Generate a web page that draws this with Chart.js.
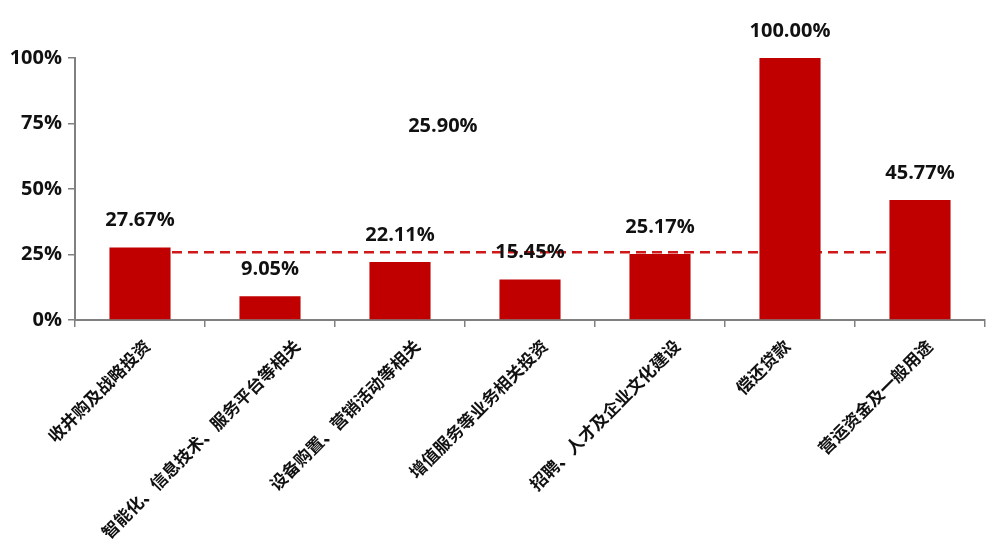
<!DOCTYPE html>
<html>
<head>
<meta charset="utf-8">
<script src="https://cdn.jsdelivr.net/npm/chart.js@4/dist/chart.umd.min.js"></script>
<style>
  html, body { margin: 0; padding: 0; background: #fff; }
  #wrap { width: 992px; height: 545px; }
</style>
</head>
<body>
<div id="wrap"><canvas id="myChart" width="992" height="545"></canvas></div>
<script>
// data
const categories = [
  '收井购及战略投资',
  '智能化、信息技术、服务平台等相关',
  '设备购置、营销活动等相关',
  '增值服务等业务相关投资',
  '招聘、人才及企业文化建设',
  '偿还贷款',
  '营运资金及一般用途'
];
const shareValues = [27.67, 9.05, 22.11, 15.45, 25.17, 100.00, 45.77];
const averageShare = 25.90;
const yTicks = [0, 25, 50, 75, 100];

const RED = '#C00000';
const AXIS = '#808080';
const NUM_FONT = 'bold 20px "Open Sans"';
const CAT_FONT = 'bold 17px "Noto Sans CJK SC"';

// value labels above bars + the average label
const labelPlugin = {
  id: 'labels',
  afterDatasetsDraw(chart) {
    const ctx = chart.ctx;
    const meta = chart.getDatasetMeta(0);
    ctx.save();
    ctx.fillStyle = '#111';
    ctx.font = NUM_FONT;
    ctx.textAlign = 'center';
    ctx.textBaseline = 'middle';
    meta.data.forEach((bar, i) => {
      ctx.fillText(shareValues[i].toFixed(2) + '%', bar.x, bar.y - 27);
    });
    // average label floats between 3rd and 4th category
    const xs = chart.scales.x;
    const x = xs.getPixelForValue(2) + 0.33 * (xs.getPixelForValue(3) - xs.getPixelForValue(2));
    const y = chart.scales.y.getPixelForValue(74);
    ctx.fillText(averageShare.toFixed(2) + '%', x, y);
    ctx.restore();
  }
};

// slanted category names, placed the way the original office chart does it
const categoryPlugin = {
  id: 'cats',
  afterDraw(chart) {
    const ctx = chart.ctx;
    const xs = chart.scales.x;
    ctx.save();
    ctx.fillStyle = '#111';
    ctx.font = CAT_FONT;
    ctx.textAlign = 'right';
    ctx.textBaseline = 'middle';
    categories.forEach((name, i) => {
      const w = ctx.measureText(name).width;
      const x = xs.getPixelForValue(i) + 0.147 * w - 13;
      const y = xs.top + 23;
      ctx.save();
      ctx.translate(x, y);
      ctx.rotate(-Math.PI / 4);
      ctx.fillText(name, 0, 0);
      ctx.restore();
    });
    ctx.restore();
  }
};

var ctx = document.getElementById('myChart').getContext('2d');
var chart = new Chart(ctx, {
  type: 'bar',
  data: {
    labels: categories,
    datasets: [
      {
        type: 'bar',
        data: shareValues,
        backgroundColor: RED,
        borderWidth: 0,
        barPercentage: 0.94,
        categoryPercentage: 0.5,
        order: 0
      },
      {
        type: 'line',
        data: categories.map(() => averageShare),
        borderColor: '#D01818',
        borderWidth: 2.5,
        borderDash: [10, 6],
        pointRadius: 0,
        fill: false,
        order: 1
      }
    ]
  },
  options: {
    responsive: false,
    animation: false,
    layout: { padding: { top: 58, right: 7, left: 0, bottom: 0 } },
    plugins: { legend: { display: false }, tooltip: { enabled: false } },
    scales: {
      x: {
        offset: true,
        grid: { display: true, drawOnChartArea: false, offset: true, color: AXIS, lineWidth: 1.5, tickLength: 7 },
        border: { display: true, color: AXIS, width: 2 },
        ticks: { display: false },
        afterFit(scale) { scale.height = 225; }
      },
      y: {
        min: 0,
        max: 100,
        afterBuildTicks(scale) { scale.ticks = yTicks.map(v => ({ value: v })); },
        grid: { display: true, drawOnChartArea: false, color: AXIS, lineWidth: 1.5, tickLength: 7 },
        border: { display: true, color: AXIS, width: 2 },
        ticks: {
          color: '#111',
          font: { family: '"Open Sans"', size: 20, weight: 'bold' },
          padding: 6,
          callback: v => v + '%'
        },
        afterFit(scale) { scale.width = 75; }
      }
    }
  },
  plugins: [labelPlugin, categoryPlugin]
});
</script>
</body>
</html>
